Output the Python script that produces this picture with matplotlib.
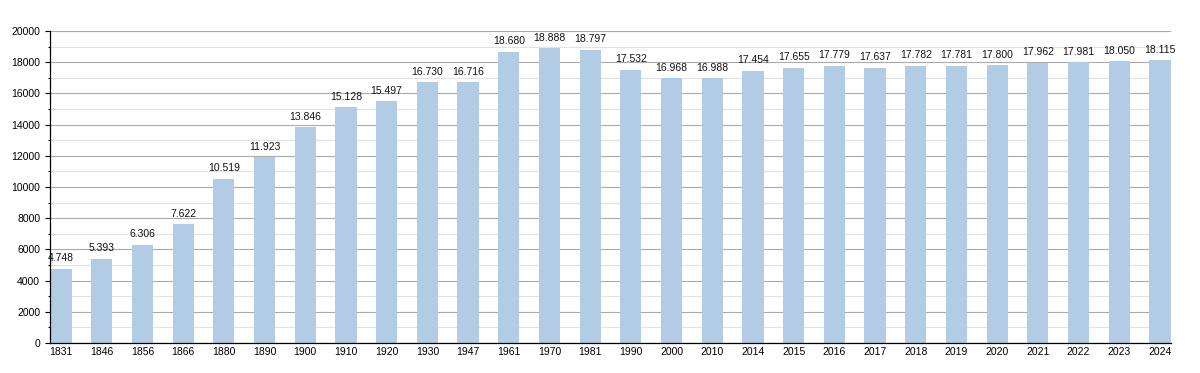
import matplotlib.pyplot as plt
from matplotlib.ticker import MultipleLocator

years = ['1831', '1846', '1856', '1866', '1880', '1890', '1900', '1910', '1920', '1930',
         '1947', '1961', '1970', '1981', '1990', '2000', '2010', '2014', '2015', '2016',
         '2017', '2018', '2019', '2020', '2021', '2022', '2023', '2024']
population = [4748, 5393, 6306, 7622, 10519, 11923, 13846, 15128, 15497, 16730,
              16716, 18680, 18888, 18797, 17532, 16968, 16988, 17454, 17655, 17779,
              17637, 17782, 17781, 17800, 17962, 17981, 18050, 18115]

plt.rcParams['font.family'] = ['Liberation Sans', 'DejaVu Sans']

fig = plt.figure(figsize=(12, 3.73), dpi=100)
ax = fig.add_axes([50 / 1200, 1 - 343 / 373, 1121 / 1200, 312 / 373])

x = list(range(len(years)))
ax.bar(x, population, width=0.52, color='#b3cce6', zorder=2)
for xi, v in zip(x, population):
    label = f'{v:,}'.replace(',', '.')
    ax.text(xi, v + 350, label, ha='center', va='bottom', fontsize=7.5, color='#111111')

ax.set_xlim(-0.27, len(years) - 1 + 0.27)
ax.set_ylim(0, 20000)
ax.set_xticks(x)
ax.set_xticklabels(years, fontsize=7.5)
ax.yaxis.set_major_locator(MultipleLocator(2000))
ax.yaxis.set_minor_locator(MultipleLocator(1000))
ax.tick_params(axis='y', which='major', labelsize=7.5, length=3.6, width=0.8)
ax.tick_params(axis='y', which='minor', length=1.8, width=0.8)
ax.tick_params(axis='x', length=0, pad=3)
ax.grid(axis='y', which='major', color='#aaaaaa', linewidth=0.8, zorder=0)
ax.grid(axis='y', which='minor', color='#e2e2e2', linewidth=0.8, zorder=0)
ax.set_axisbelow(True)
for s in ['top', 'right']:
    ax.spines[s].set_visible(False)
ax.spines['left'].set_linewidth(0.9)
ax.spines['bottom'].set_linewidth(0.9)

fig.savefig('out.png', dpi=100)
